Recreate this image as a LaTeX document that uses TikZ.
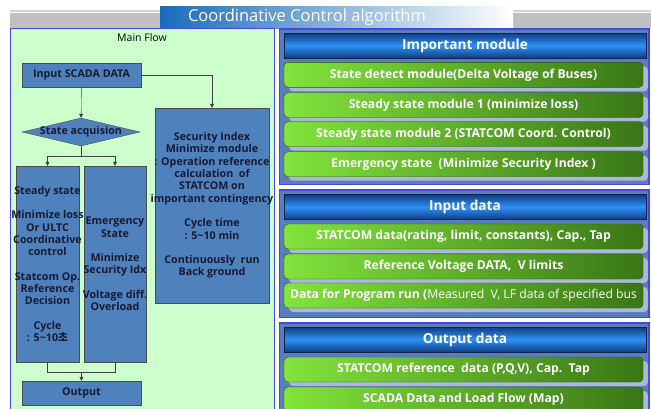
\documentclass[tikz,border=0pt]{standalone}
\usepackage{fontspec}
\setmainfont{Open Sans}
\newfontfamily\krfont{Noto Sans CJK KR}
\usetikzlibrary{positioning,arrows.meta,shapes.geometric,shadows}
\definecolor{FlowBg}{RGB}{204,255,204}
\definecolor{PanelEdge}{RGB}{70,70,225}
\definecolor{PanelBg}{RGB}{90,125,188}
\definecolor{BarShade}{RGB}{170,186,212}
\definecolor{BoxBlue}{RGB}{79,129,189}
\definecolor{BoxText}{RGB}{22,26,52}
\definecolor{HdrDark}{RGB}{18,62,130}
\definecolor{HdrLight}{RGB}{45,145,245}
\definecolor{BarLight}{RGB}{130,228,60}
\definecolor{BarDark}{RGB}{58,118,22}
\definecolor{TitleBlue}{RGB}{25,108,188}
\definecolor{BandGray}{RGB}{192,192,192}

\begin{document}
\begin{tikzpicture}[x=1bp,y=-1bp,
  font=\fontsize{10.5bp}{12.3bp}\selectfont,
  fb/.style={draw=black!70,fill=BoxBlue,inner xsep=-40bp,inner ysep=2bp,align=center,
    text=BoxText,font=\fontsize{10.7bp}{12.3bp}\selectfont\bfseries},
  hdr/.style={draw=HdrDark!60!black,top color=HdrDark,bottom color=HdrDark,middle color=HdrLight,
    minimum width=362bp,minimum height=25bp,inner sep=0pt,text=white,
    font=\fontsize{13.7bp}{15bp}\selectfont\bfseries},
  bar/.style={draw=BarDark!70!black,rounded corners=4bp,left color=BarLight,right color=BarDark,
    minimum width=359bp,minimum height=25bp,inner sep=0pt,text=white,
    font=\fontsize{12.2bp}{14bp}\selectfont\bfseries,
    drop shadow={shadow xshift=5bp,shadow yshift=-4bp,fill=BarShade,opacity=1}},
  panel/.style={draw=PanelEdge,line width=1.2bp,fill=PanelBg},
  ar/.style={-{Triangle[length=4bp,width=4bp]},draw=black!75},
  ln/.style={draw=black!75},
]
\useasboundingbox (0,0) rectangle (651,408);

% title band
\fill[BandGray!70] (10,10) rectangle (651,12);
\fill[BandGray] (10,13) rectangle (651,28);
\node[left color=TitleBlue,right color=white,minimum width=353bp,minimum height=22bp,
  inner sep=0pt] (titlebox) at (336.5,17) {};
\node[text=white,font=\fontsize{16.5bp}{18bp}\selectfont] (title) at (307,17)
  {Coordinative Control algorithm};

% main flow panel
\draw[fill=FlowBg,draw=PanelEdge,line width=1bp] (10,28) rectangle (274,410);
\node (mainflow) at (142,38) {Main Flow};

\node[fb,minimum width=119bp,minimum height=24bp] (scada) at (81.5,75) {Input SCADA DATA};
\node[fb,diamond,inner sep=0pt,minimum width=118bp,minimum height=28bp] (acq) at (81,132) {};
\node[text=BoxText,font=\fontsize{10.7bp}{12.3bp}\selectfont\bfseries] (acqtxt) at (acq) {State acquision};
\node[fb,minimum width=63bp,minimum height=196bp] (steady) at (47.5,264)
  {Steady state\\[12.3bp]
   Minimize loss\\Or ULTC\\Coordinative\\control\\[12.3bp]
   Statcom Op.\\Reference\\Decision\\[12.3bp]
   Cycle\\: 5\textasciitilde10{\krfont 초}};
\node[fb,minimum width=62bp,minimum height=196bp] (emerg) at (115,264)
  {Emergency\\State\\[12.3bp]
   Minimize\\Security Idx\\[12.3bp]
   Voltage diff.\\Overload};
\node[fb,minimum width=114bp,minimum height=195bp] (secidx) at (212,205.5)
  {Security Index\\Minimize module\\: Operation reference\\calculation\ \ of\\
   STATCOM on\\important contingency\\[12.3bp]
   Cycle time\\: 5\textasciitilde10 min\\[12.3bp]
   Continuously\ \ run\\Back ground};
\node[fb,minimum width=119bp,minimum height=24bp] (output) at (81.5,393) {Output};

\coordinate (split) at (81,156);
\coordinate (join) at (81.5,372);
\draw[ar] (scada) -- (acq);
\draw[ln] (acq.south) -- (split);
\draw[ar] (split) -| (steady.north);
\draw[ar] (split) -| (emerg.north);
\draw[ln] (steady.south) |- (join) -| (emerg.south);
\draw[ar] (join) -- (output);
\draw[ar] (scada.east) -| (secidx.north);

% right-hand panels
\draw[panel] (279.5,29) rectangle (649,184.5);
\draw[panel] (279.5,190) rectangle (649,317.5);
\draw[panel] (279.5,323) rectangle (649,412);

\node[hdr] (modhdr) at (465,45.5) {Important module};
\node[bar] (mod1) at (463.5,74.8) {State detect module(Delta Voltage of Buses)};
\node[bar] (mod2) at (463.5,105) {Steady state module 1 (minimize loss)};
\node[bar] (mod3) at (463.5,134.2) {Steady state module 2 (STATCOM Coord. Control)};
\node[bar] (mod4) at (463.5,164.2) {Emergency state\ \ (Minimize Security Index )};

\node[hdr] (inhdr) at (465,207) {Input data};
\node[bar] (in1) at (463.5,236.5) {STATCOM data(rating, limit, constants), Cap., Tap};
\node[bar] (in2) at (463.5,266.5) {Reference Voltage DATA,\ \ V limits};
\node[bar] (in3) at (463.5,295.5)
  {Data for Program run ({\mdseries Measured\ \ V, LF data of specified bus}};

\node[hdr] (outhdr) at (465,339.5) {Output data};
\node[bar] (out1) at (463.5,369.5) {STATCOM reference\ \ data (P,Q,V), Cap.\ \ Tap};
\node[bar] (out2) at (463.5,399.5) {SCADA Data and Load Flow (Map)};
\end{tikzpicture}
\end{document}
